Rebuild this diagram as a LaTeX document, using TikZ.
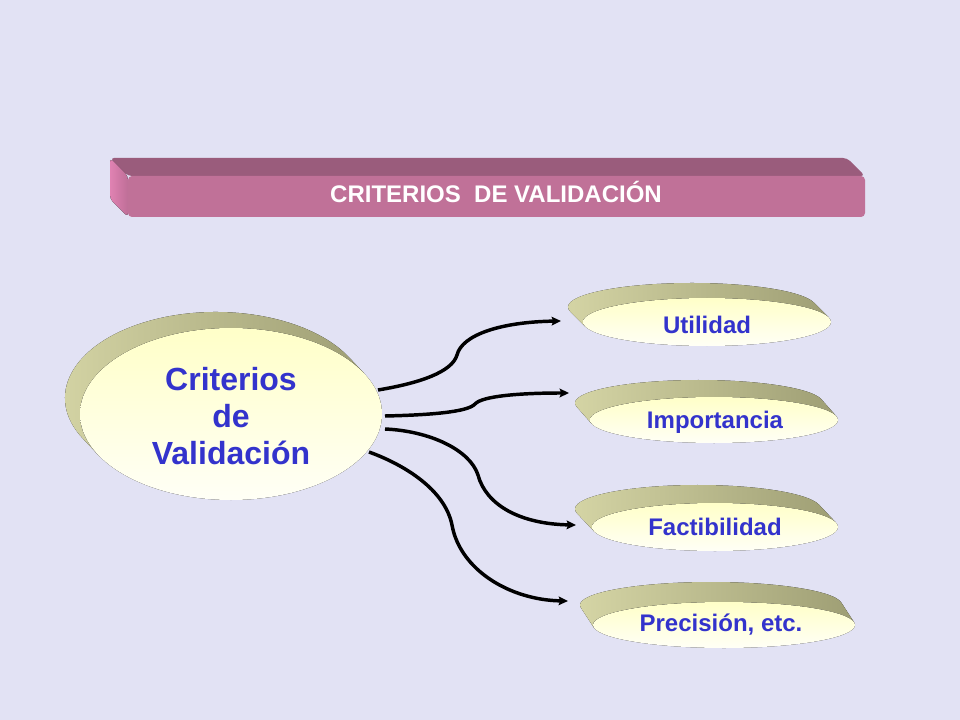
\documentclass[tikz,border=0pt]{standalone}
\usepackage{fontspec}
\setmainfont{Liberation Sans}
\usetikzlibrary{calc,arrows.meta}
\definecolor{bgcol}{RGB}{226,226,244}
\definecolor{txtblue}{RGB}{51,51,204}
\definecolor{banfront}{RGB}{192,113,152}
\definecolor{bantop}{RGB}{154,92,124}
\definecolor{banleft}{RGB}{224,130,178}
\definecolor{sidelight}{RGB}{214,214,166}
\definecolor{sidedark}{RGB}{158,158,116}
\definecolor{facetop}{RGB}{255,255,200}
\definecolor{facebot}{RGB}{255,255,246}
\tikzset{
  sideface/.style={left color=sidelight,right color=sidedark},
  frontface/.style={top color=facetop,bottom color=facebot},
  smalllabel/.style={font=\fontsize{18}{21}\selectfont\bfseries,text=txtblue,anchor=base,inner sep=0pt},
  conn/.style={line width=2.6pt,black,-{Stealth[length=7pt,width=6.5pt,inset=1.2pt]}},
}
\newcommand\myslab[6]{%
  \pgfmathsetmacro\tang{atan((#4*#5)/(#3*#6))}%
  \fill[sideface] ($(#1,-#2)+(#5,-#6)+(\tang:#3 and #4)$)
     arc[start angle=\tang, end angle=\tang+180, x radius=#3, y radius=#4]
     -- ($(#1,-#2)+(\tang+180:#3 and #4)$)
     arc[start angle=\tang+180, end angle=\tang, x radius=#3, y radius=#4] -- cycle;
  \fill[frontface] (#1,-#2) ellipse[x radius=#3, y radius=#4];
}
\begin{document}
\begin{tikzpicture}[x=0.75pt,y=0.75pt]
\fill[bgcol] (0,0) rectangle (960,-720);
\useasboundingbox (0,0) rectangle (960,-720);
% banner
\fill[bantop,rounded corners=3pt] (110,-158) -- (847,-158) -- (865,-176) -- (128,-176) -- cycle;
\fill[left color=banleft,right color=banleft!85!black,rounded corners=3pt] (110,-158) -- (128,-176) -- (128,-217) -- (110,-199) -- cycle;
\fill[banfront,rounded corners=3pt] (128,-176) rectangle (865,-217);
\node[font=\fontsize{18}{21}\selectfont\bfseries,text=white,anchor=base,inner sep=0pt] (title) at (496,-203) {CRITERIOS\ \ DE VALIDACIÓN};
% main ellipse
\myslab{231}{414}{151}{86}{-15}{-16}
\node[font=\fontsize{24}{28}\selectfont\bfseries,text=txtblue,align=center,inner sep=0pt] (main) at (231,-416) {Criterios\\de\\Validación};
% small ellipses
\myslab{707}{322}{124}{24}{-15}{-15}
\node[smalllabel] (u) at (707,-333) {Utilidad};
\myslab{714}{420}{124}{23}{-15}{-17}
\node[smalllabel] (i) at (715,-428) {Importancia};
\myslab{715}{527}{123}{24}{-17}{-18}
\node[smalllabel] (f) at (715,-535) {Factibilidad};
\myslab{724}{625}{131}{23}{-13}{-20}
\node[smalllabel] (p) at (721,-631) {Precisión, etc.};
% connector ends
\coordinate (s1) at (378,-390);
\coordinate (s2) at (385,-416);
\coordinate (s3) at (385,-429);
\coordinate (s4) at (369,-452);
\coordinate (e1) at (561,-321);
\coordinate (e2) at (569,-393);
\coordinate (e3) at (576,-525);
\coordinate (e4) at (568,-601);
\draw[conn] (s1) .. controls (420,-383) and (452,-372) .. (457,-355)
   .. controls (462,-335) and (500,-322) .. (e1);
\draw[conn] (s2) .. controls (430,-415) and (468,-412) .. (475,-404)
   .. controls (482,-396) and (520,-393) .. (e2);
\draw[conn] (s3) .. controls (430,-431) and (470,-450) .. (478,-475)
   .. controls (486,-505) and (520,-524) .. (e3);
\draw[conn] (s4) .. controls (405,-465) and (445,-490) .. (452,-525)
   .. controls (460,-570) and (510,-600) .. (e4);
\end{tikzpicture}
\end{document}
